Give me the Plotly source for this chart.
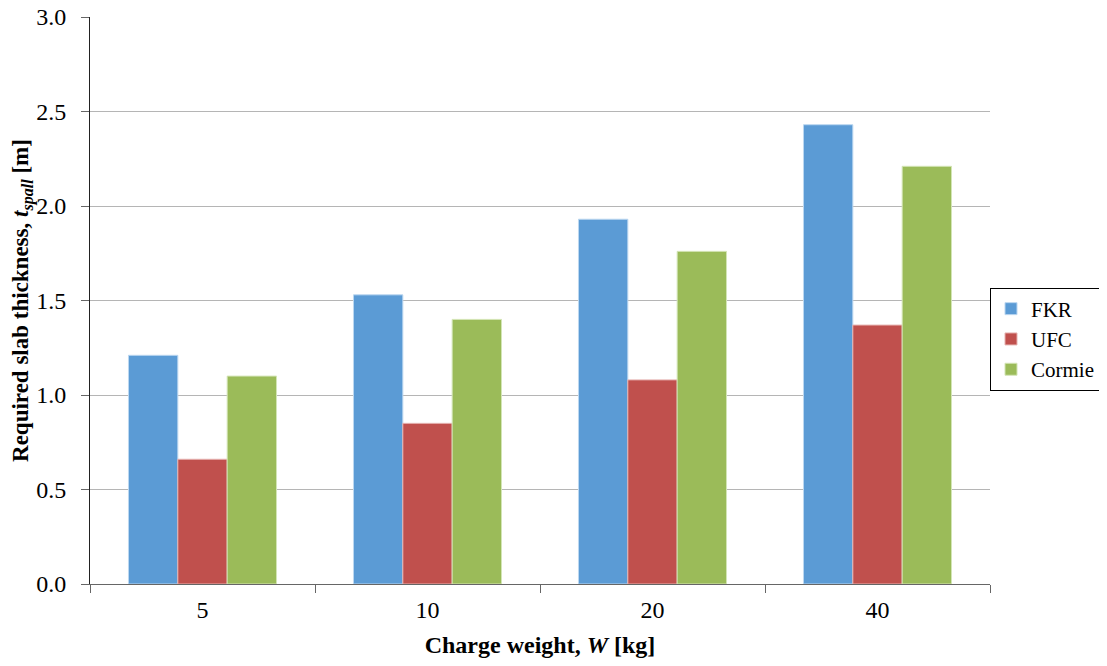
import plotly.graph_objects as go

CHARGE = ["5", "10", "20", "40"]
FKR = [1.21, 1.53, 1.93, 2.43]
UFC = [0.66, 0.85, 1.08, 1.37]
CORMIE = [1.10, 1.40, 1.76, 2.21]

SERIES = [
    ("FKR", FKR, "#5b9bd5", "#bcd7f0"),
    ("UFC", UFC, "#c0504d", "#e6b3b1"),
    ("Cormie", CORMIE, "#9bbb59", "#d4e5b6"),
]

FONT = "'Liberation Serif', 'Times New Roman', serif"

fig = go.Figure()
for name, vals, color, edge in SERIES:
    fig.add_trace(
        go.Bar(
            x=CHARGE,
            y=vals,
            name=name,
            marker={"color": color, "line": {"color": edge, "width": 1}},
        )
    )

# page body adds an 8px offset, margins are shifted to compensate
fig.update_layout(
    width=1107,
    height=666,
    barmode="group",
    bargap=0.342,
    bargroupgap=0,
    paper_bgcolor="white",
    plot_bgcolor="white",
    font={"family": FONT, "size": 24, "color": "black"},
    margin={"l": 82, "r": 125, "t": 9, "b": 90, "autoexpand": False},
    legend={
        "xref": "container",
        "yref": "container",
        "x": 1092 / 1107,
        "y": 1 - 331 / 666,
        "xanchor": "right",
        "yanchor": "middle",
        "bordercolor": "black",
        "borderwidth": 1,
        "font": {"family": FONT, "size": 21, "color": "black"},
        "itemwidth": 30,
    },
)
fig.update_xaxes(
    type="category",
    showline=True,
    linecolor="#666",
    linewidth=1,
    ticks="outside",
    tickson="boundaries",
    ticklen=8,
    tickcolor="#666",
    ticklabelstandoff=4,
    tickfont={"family": FONT, "size": 24, "color": "black"},
    showgrid=False,
    title={"text": "<b>Charge weight, <i>W</i> [kg]</b>", "standoff": 14, "font": {"family": FONT, "size": 24}},
)
fig.update_yaxes(
    range=[0, 3.0],
    dtick=0.5,
    tickformat=".1f",
    showline=True,
    linecolor="#222",
    linewidth=1,
    ticks="outside",
    ticklen=8,
    tickcolor="#666",
    ticklabelstandoff=10,
    ticklabeloverflow="allow",
    tickfont={"family": FONT, "size": 24, "color": "black"},
    gridcolor="#b5b5b5",
    zeroline=False,
    title={
        "text": "<b>Required slab thickness, <i>t</i><sub><i>spall</i></sub> [m]</b>",
        "standoff": 6,
        "font": {"family": FONT, "size": 23},
    },
)

fig.write_html("out.html")
